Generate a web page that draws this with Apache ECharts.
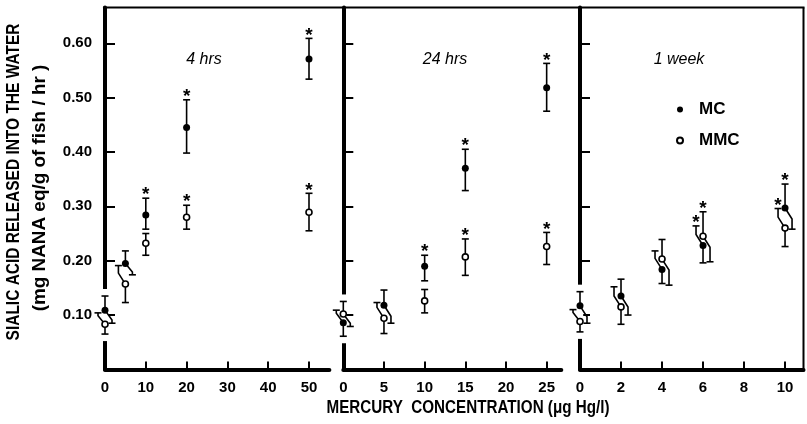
<!DOCTYPE html>
<html><head><meta charset="utf-8">
<script src="https://cdn.jsdelivr.net/npm/echarts@6/dist/echarts.min.js"></script>
<style>html,body{margin:0;padding:0;background:#fff}#c{width:807px;height:424px}</style>
</head><body><div id="c"></div>
<script>
// ---------- DATA ----------
const panelTitles = ['4 hrs', '24 hrs', '1 week'];
const yTickValues = [0.1, 0.2, 0.3, 0.4, 0.5, 0.6];
const xTicks4h = [0, 10, 20, 30, 40, 50];
const xTicks24h = [0, 5, 10, 15, 20, 25];
const xTicks1w = [0, 2, 4, 6, 8, 10];

// Panel 1: 4 hrs
const x4h = [0, 5, 10, 20, 50];
const mc4h = [0.109, 0.195, 0.284, 0.445, 0.571];
const mc4hLo = [0.085, 0.174, 0.258, 0.398, 0.534];
const mc4hHi = [0.135, 0.218, 0.315, 0.496, 0.609];
const mc4hSig = [0, 0, 1, 1, 1];
const mmc4h = [0.083, 0.157, 0.232, 0.280, 0.289];
const mmc4hLo = [0.065, 0.123, 0.210, 0.258, 0.255];
const mmc4hHi = [0.104, 0.191, 0.250, 0.302, 0.324];
const mmc4hSig = [0, 0, 0, 1, 1];

// Panel 2: 24 hrs
const x24h = [0, 5, 10, 15, 25];
const mc24h = [0.086, 0.118, 0.190, 0.370, 0.518];
const mc24hLo = [0.061, 0.085, 0.163, 0.329, 0.475];
const mc24hHi = [0.109, 0.146, 0.210, 0.405, 0.563];
const mc24hSig = [0, 0, 1, 1, 1];
const mmc24h = [0.102, 0.094, 0.126, 0.207, 0.226];
const mmc24hLo = [0.079, 0.066, 0.104, 0.173, 0.193];
const mmc24hHi = [0.125, 0.123, 0.147, 0.240, 0.252];
const mmc24hSig = [0, 0, 0, 1, 1];

// Panel 3: 1 week
const x1w = [0, 2, 4, 6, 10];
const mc1w = [0.117, 0.135, 0.184, 0.228, 0.297];
const mc1wLo = [0.085, 0.100, 0.158, 0.196, 0.258];
const mc1wHi = [0.143, 0.166, 0.218, 0.264, 0.341];
const mc1wSig = [0, 0, 0, 1, 1];
const mmc1w = [0.088, 0.115, 0.203, 0.245, 0.260];
const mmc1wLo = [0.069, 0.083, 0.155, 0.198, 0.226];
const mmc1wHi = [0.110, 0.152, 0.239, 0.290, 0.296];
const mmc1wSig = [0, 0, 0, 1, 1];

// ---------- LAYOUT / STYLE ----------
const FONT = "'Liberation Sans',Arial,sans-serif";
const GTOP = 7.4, GH = 362, YMAX = 0.666;
const grids = [
  {left: 105, width: 224.4, xmax: 55, ticks: xTicks4h},
  {left: 343.3, width: 218, xmax: 26.8, ticks: xTicks24h},
  {left: 580, width: 223.5, xmax: 10.9, ticks: xTicks1w}
];
const panels = [
  {x: x4h, mc: [mc4h, mc4hLo, mc4hHi, mc4hSig], mmc: [mmc4h, mmc4hLo, mmc4hHi, mmc4hSig]},
  {x: x24h, mc: [mc24h, mc24hLo, mc24hHi, mc24hSig], mmc: [mmc24h, mmc24hLo, mmc24hHi, mmc24hSig]},
  {x: x1w, mc: [mc1w, mc1wLo, mc1wHi, mc1wSig], mmc: [mmc1w, mmc1wLo, mmc1wHi, mmc1wSig]}
];

function buildBarData(p) {
  // when two error bars overlap, the upper point's lower bar is drawn shifted right
  // and the lower point's upper bar shifted left (as in the original figure)
  const mcD = [], mmcD = [];
  p.x.forEach((x, i) => {
    const a = {m: p.mc[0][i], lo: p.mc[1][i], hi: p.mc[2][i], s: p.mc[3][i], skLo: 0, skHi: 0};
    const b = {m: p.mmc[0][i], lo: p.mmc[1][i], hi: p.mmc[2][i], s: p.mmc[3][i], skLo: 0, skHi: 0};
    const up = a.m >= b.m ? a : b, dn = a.m >= b.m ? b : a;
    if (up.lo < dn.hi) { up.skLo = 1; dn.skHi = -1; }
    mcD.push([x, a.m, a.lo, a.hi, a.skLo, a.skHi, a.s]);
    mmcD.push([x, b.m, b.lo, b.hi, b.skLo, b.skHi, b.s]);
  });
  return [mcD, mmcD];
}

function renderBar(params, api) {
  const x = api.value(0), m = api.value(1), lo = api.value(2), hi = api.value(3);
  const skLo = api.value(4), skHi = api.value(5), sig = api.value(6);
  const p = api.coord([x, m]);
  const yl = api.coord([x, lo])[1], yh = api.coord([x, hi])[1];
  const children = [];
  const st = {stroke: '#000', lineWidth: 1.6, fill: null};
  function bar(endY, side) {
    const dir = endY < p[1] ? -1 : 1;
    const total = Math.abs(endY - p[1]);
    let pts;
    if (side) {
      const dx = side * 7, dy = Math.min(11, total * 0.75);
      pts = [[p[0], p[1]], [p[0] + dx, p[1] + dir * dy], [p[0] + dx, endY]];
    } else pts = [[p[0], p[1]], [p[0], endY]];
    const ex = pts[pts.length - 1][0];
    children.push({type: 'polyline', shape: {points: pts}, style: st});
    children.push({type: 'line', shape: {x1: ex - 3.5, y1: endY, x2: ex + 3.5, y2: endY}, style: st});
    return ex;
  }
  bar(yl, skLo);
  const ex = bar(yh, skHi);
  if (sig) {
    children.push({type: 'text', x: ex, y: yh - 3,
      style: {text: '*', font: 'bold 19px ' + FONT, fill: '#000', align: 'center', verticalAlign: 'middle',
              textAlign: 'center', textVerticalAlign: 'middle'}});
  }
  return {type: 'group', children};
}

function renderGap(params, api) {
  const x = api.value(0);
  const a = api.coord([x, api.value(2)]), b = api.coord([x, api.value(1)]);
  return {type: 'rect', shape: {x: a[0] - 3.2, y: a[1] - 7, width: 6.4, height: b[1] - a[1] + 14},
          style: {fill: '#fff'}};
}

function label(text, x, y, size, opts) {
  return Object.assign({type: 'text', x, y,
    style: {text, font: (opts && opts.italic ? 'italic ' : 'bold ') + size + 'px ' + FONT, fill: '#000',
            align: 'center', verticalAlign: 'middle', textAlign: 'center', textVerticalAlign: 'middle'}},
    opts && opts.el);
}

const gRight = grids[2].left + grids[2].width;
const option = {
  backgroundColor: '#fff',
  animation: false,
  grid: grids.map(g => ({left: g.left, top: GTOP, width: g.width, height: GH})),
  xAxis: grids.map((g, i) => ({
    gridIndex: i, type: 'value', min: 0, max: g.xmax,
    axisLine: {show: true, onZero: false, lineStyle: {color: '#000', width: 4}},
    axisTick: {show: true, inside: true, length: 8, customValues: g.ticks, lineStyle: {color: '#000', width: 2}},
    axisLabel: {show: true, customValues: g.ticks, margin: 11, color: '#000', fontFamily: FONT, fontWeight: 'bold', fontSize: 15},
    splitLine: {show: false}
  })),
  yAxis: grids.map((g, i) => ({
    gridIndex: i, type: 'value', min: 0, max: YMAX,
    axisLine: {show: true, onZero: false, lineStyle: {color: '#000', width: 4}},
    axisTick: {show: true, inside: true, length: 10, customValues: yTickValues, lineStyle: {color: '#000', width: 2}},
    axisLabel: {show: i === 0, customValues: yTickValues, formatter: v => v.toFixed(2), margin: 13,
                color: '#000', fontFamily: FONT, fontWeight: 'bold', fontSize: 15},
    splitLine: {show: false}
  })),
  legend: {
    data: ['MC', 'MMC'], orient: 'vertical', left: 671, top: 96, itemWidth: 28, itemHeight: 6, itemGap: 14,
    textStyle: {color: '#000', fontFamily: FONT, fontWeight: 'bold', fontSize: 17}
  },
  graphic: [
    {type: 'line', shape: {x1: 103, y1: GTOP, x2: gRight + 1, y2: GTOP}, style: {stroke: '#000', lineWidth: 2}},
    {type: 'line', shape: {x1: gRight, y1: GTOP, x2: gRight, y2: GTOP + GH + 2}, style: {stroke: '#000', lineWidth: 2}},
    label('SIALIC ACID RELEASED INTO THE WATER', 14, 182, 18, {el: {rotation: Math.PI / 2, scaleX: 0.86}}),
    label('(mg NANA eq/g of fish / hr )', 40, 188, 18, {el: {rotation: Math.PI / 2, scaleX: 1.05}}),
    label('MERCURY  CONCENTRATION (\u03bcg Hg/l)', 468, 408, 18, {el: {scaleX: 0.845}}),
    ...panelTitles.map((t, i) => label(t, [204, 445, 679][i], 60, 16, {italic: true}))
  ],
  series: []
};

panels.forEach((p, i) => {
  const [mcD, mmcD] = buildBarData(p);
  const i0 = p.x.indexOf(0);
  const lo0 = Math.min(p.mc[1][i0], p.mmc[1][i0]);
  const hi0 = Math.max(p.mc[2][i0], p.mmc[2][i0]);
  option.series.push({type: 'custom', name: 'gap' + i, xAxisIndex: i, yAxisIndex: i, z: 1, silent: true,
    renderItem: renderGap, data: [[0, lo0, hi0]]});
  option.series.push({type: 'custom', name: 'MC bars', xAxisIndex: i, yAxisIndex: i, z: 2, renderItem: renderBar, data: mcD});
  option.series.push({type: 'custom', name: 'MMC bars', xAxisIndex: i, yAxisIndex: i, z: 2, renderItem: renderBar, data: mmcD});
  option.series.push({type: 'scatter', name: 'MC', xAxisIndex: i, yAxisIndex: i, z: 4, symbol: 'circle', symbolSize: 7,
    itemStyle: {color: '#000', opacity: 1}, data: p.x.map((x, k) => [x, p.mc[0][k]])});
  option.series.push({type: 'scatter', name: 'MMC', xAxisIndex: i, yAxisIndex: i, z: 4, symbol: 'circle', symbolSize: 6,
    itemStyle: {color: '#fff', borderColor: '#000', borderWidth: 1.6, opacity: 1}, data: p.x.map((x, k) => [x, p.mmc[0][k]])});
});

const chart = echarts.init(document.getElementById('c'), null, {renderer: 'canvas'});
chart.setOption(option);
</script></body></html>
